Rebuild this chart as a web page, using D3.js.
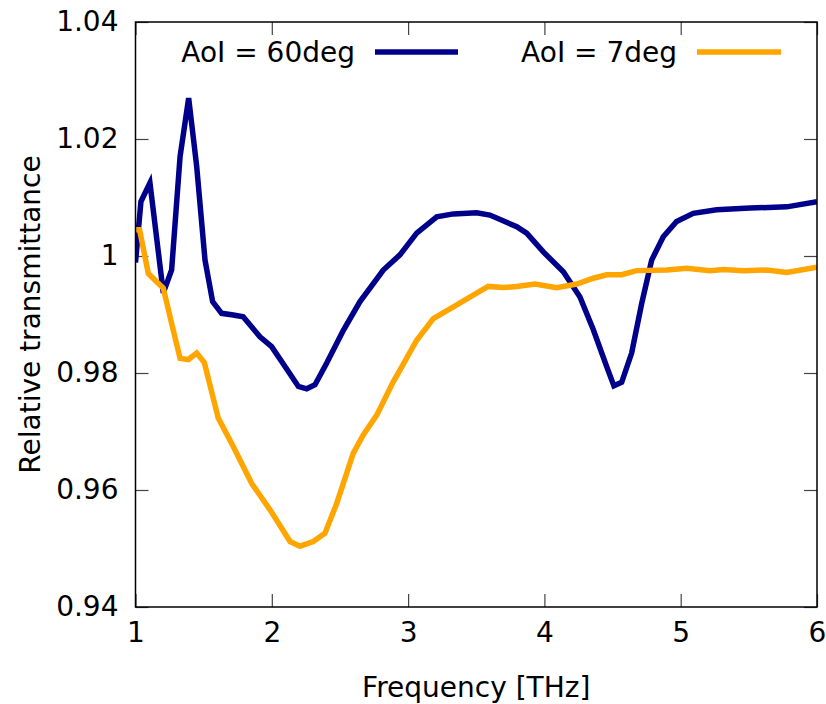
<!DOCTYPE html>
<html>
<head>
<meta charset="utf-8">
<script src="https://cdn.jsdelivr.net/npm/d3@7/dist/d3.min.js"></script>
<style>
  html, body { margin: 0; padding: 0; background: #fff; }
  svg { display: block; font-family: "DejaVu Sans", sans-serif; }
</style>
</head>
<body>
<svg id="chart" width="826" height="704"></svg>
<script>
// Relative transmittance vs frequency for two angles of incidence
const freq60 = [1.0, 1.04, 1.106, 1.204, 1.265, 1.327, 1.39, 1.449, 1.51, 1.566, 1.632, 1.718, 1.79,
  1.913, 1.999, 2.097, 2.195, 2.256, 2.317, 2.403, 2.525, 2.647, 2.818, 2.94, 3.063, 3.21, 3.332,
  3.503, 3.60, 3.797, 3.87, 3.992, 4.139, 4.261, 4.359, 4.457, 4.51, 4.567, 4.64, 4.714, 4.787,
  4.872, 4.97, 5.092, 5.264, 5.508, 5.778, 6.0];
const aoi60 = [0.9989, 1.0093, 1.0125, 0.9937, 0.9976, 1.0170, 1.0270, 1.0153, 0.9993, 0.9922, 0.9902, 0.9899, 0.9896,
  0.9862, 0.9845, 0.9811, 0.9777, 0.9773, 0.9780, 0.9817, 0.9873, 0.9922, 0.9976, 1.0002, 1.0039, 1.0067, 1.0072,
  1.0074, 1.0070, 1.0050, 1.0039, 1.0007, 0.9973, 0.9930, 0.9874, 0.9811, 0.9778, 0.9784, 0.9834, 0.9919, 0.9993,
  1.0033, 1.0059, 1.0073, 1.0079, 1.0082, 1.0084, 1.0093];

const freq7 = [1.0, 1.03, 1.094, 1.204, 1.265, 1.327, 1.388, 1.449, 1.505, 1.607, 1.718, 1.853, 1.987,
  2.134, 2.207, 2.304, 2.39, 2.476, 2.598, 2.671, 2.77, 2.891, 2.94, 3.063, 3.185, 3.332, 3.478,
  3.588, 3.698, 3.797, 3.931, 4.09, 4.237, 4.359, 4.457, 4.567, 4.677, 4.897, 5.044, 5.215, 5.313,
  5.459, 5.631, 5.778, 6.0];
const aoi7 = [1.0045, 1.0045, 0.9970, 0.9945, 0.9885, 0.9825, 0.9823, 0.9834, 0.9818, 0.9723, 0.9674, 0.9611, 0.9566,
  0.9512, 0.9504, 0.9512, 0.9526, 0.9577, 0.9663, 0.9694, 0.9728, 0.9785, 0.9805, 0.9856, 0.9893, 0.9913, 0.9933,
  0.9948, 0.9946, 0.9948, 0.9952, 0.9946, 0.9952, 0.9962, 0.9968, 0.9968, 0.9975, 0.9976, 0.9979, 0.9975, 0.9977,
  0.9975, 0.9976, 0.9972, 0.9981];

const xTicks = [1, 2, 3, 4, 5, 6];
const yTicks = [0.94, 0.96, 0.98, 1.00, 1.02, 1.04];
const yTickLabels = ["0.94", "0.96", "0.98", "1", "1.02", "1.04"];

const series = [
  { label: "AoI = 60deg", x: freq60, y: aoi60, color: "#00008b" },
  { label: "AoI = 7deg", x: freq7, y: aoi7, color: "#ffa500" }
];

const W = 826, H = 704;
const m = { left: 135.5, right: 9, top: 22, bottom: 97 };
const iw = W - m.left - m.right, ih = H - m.top - m.bottom;

const svg = d3.select("#chart");
const g = svg.append("g").attr("transform", `translate(${m.left},${m.top})`);

const x = d3.scaleLinear().domain([1, 6]).range([0, iw]);
const y = d3.scaleLinear().domain([0.94, 1.04]).range([ih, 0]);

const fontSize = 28;
const tickLen = 13;

function styleAxis(sel, showText) {
  sel.select(".domain").remove();
  sel.selectAll(".tick line").attr("stroke", "#444").attr("stroke-width", 1.2);
  sel.selectAll(".tick text").attr("fill", "#000").attr("font-size", fontSize)
    .attr("font-family", "DejaVu Sans, sans-serif");
  if (!showText) sel.selectAll(".tick text").remove();
}

// bottom axis with labels
g.append("g").attr("transform", `translate(0,${ih})`)
  .call(d3.axisBottom(x).tickValues(xTicks).tickFormat(d3.format("d")).tickSize(-tickLen).tickPadding(15))
  .call(s => styleAxis(s, true));
// top mirror ticks
g.append("g")
  .call(d3.axisTop(x).tickValues(xTicks).tickSize(-tickLen))
  .call(s => styleAxis(s, false));
// left axis with labels
g.append("g")
  .call(d3.axisLeft(y).tickValues(yTicks).tickFormat((d, i) => yTickLabels[i]).tickSize(-tickLen).tickPadding(17))
  .call(s => styleAxis(s, true));
// right mirror ticks
g.append("g").attr("transform", `translate(${iw},0)`)
  .call(d3.axisRight(y).tickValues(yTicks).tickSize(-tickLen))
  .call(s => styleAxis(s, false));

// clip for data lines
svg.append("defs").append("clipPath").attr("id", "plotclip")
  .append("rect").attr("width", iw).attr("height", ih);

const line = d3.line().x(d => x(d[0])).y(d => y(d[1]));
const plot = g.append("g").attr("clip-path", "url(#plotclip)");
series.forEach(s => {
  plot.append("path")
    .datum(s.x.map((f, i) => [f, s.y[i]]))
    .attr("d", line)
    .attr("fill", "none")
    .attr("stroke", s.color)
    .attr("stroke-width", 5.5)
    .attr("stroke-linejoin", "miter")
    .attr("stroke-miterlimit", 4);
});

// frame
g.append("rect").attr("width", iw).attr("height", ih)
  .attr("fill", "none").attr("stroke", "#000").attr("stroke-width", 1.5);

// legend (text right-aligned before each sample line)
const legendY = 52;
const legendItems = [
  { s: series[0], textEnd: 355, x0: 375, x1: 458 },
  { s: series[1], textEnd: 677, x0: 697, x1: 781 }
];
legendItems.forEach(it => {
  svg.append("text").attr("x", it.textEnd).attr("y", legendY).attr("dy", "0.35em")
    .attr("text-anchor", "end").attr("font-size", fontSize).attr("fill", "#000")
    .text(it.s.label);
  svg.append("line").attr("x1", it.x0).attr("x2", it.x1)
    .attr("y1", legendY).attr("y2", legendY)
    .attr("stroke", it.s.color).attr("stroke-width", 5.5);
});

// axis titles
svg.append("text").attr("x", m.left + iw / 2).attr("y", 697)
  .attr("text-anchor", "middle").attr("font-size", fontSize).attr("fill", "#000")
  .text("Frequency [THz]");
svg.append("text")
  .attr("transform", `translate(30,${m.top + ih / 2}) rotate(-90)`)
  .attr("text-anchor", "middle").attr("dy", "0.35em")
  .attr("font-size", fontSize).attr("fill", "#000")
  .text("Relative transmittance");
</script>
</body>
</html>
